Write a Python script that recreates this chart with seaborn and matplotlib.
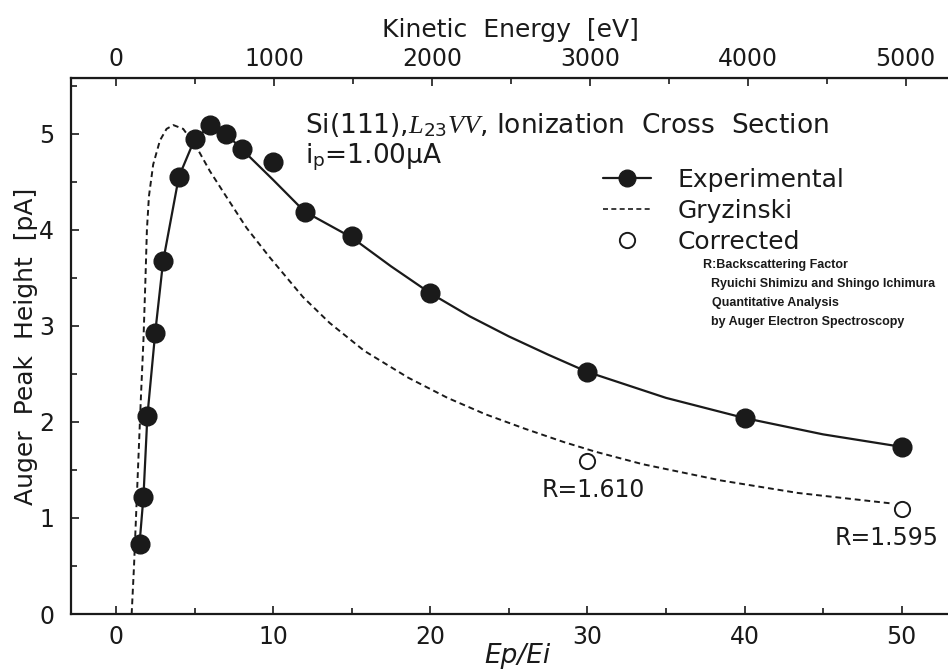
import numpy as np
import pandas as pd
import matplotlib
matplotlib.use('Agg')
import matplotlib.pyplot as plt
from matplotlib.lines import Line2D
from matplotlib.ticker import MultipleLocator, FixedLocator
import seaborn as sns

# Experimental points (Ep/Ei, pA)
exp_x = [1.5, 1.75, 2, 2.5, 3, 4, 5, 6, 7, 8, 10, 12, 15, 20, 30, 40, 50]
exp_y = [0.73, 1.22, 2.06, 2.93, 3.67, 4.55, 4.94, 5.09, 5.0, 4.84, 4.71, 4.19, 3.94, 3.34, 2.52, 2.04, 1.74]

fit_x = [1.5, 1.75, 2, 2.5, 3, 4, 5, 6, 7, 8, 10, 12, 15, 17.5, 20, 22.5, 25, 27.5, 30, 35, 40, 45, 50]
fit_y = [0.73, 1.22, 2.06, 2.93, 3.67, 4.55, 4.94, 5.08, 5.0, 4.84, 4.52, 4.19, 3.92, 3.62, 3.34, 3.1, 2.89, 2.7, 2.52, 2.25, 2.04, 1.87, 1.74]

# Gryzinski curve
gry_x = [1.0, 1.15, 1.3, 1.45, 1.6, 1.75, 1.88, 1.97, 2.1, 2.37, 2.8, 3.22, 3.65, 4.28, 5.13, 5.98,
         7.04, 8.31, 9.8, 11.9, 13.6, 15.8, 18.6, 21.1, 23.5, 26.0, 28.5, 30.5, 33.5, 38.5, 43.4, 49.4]
gry_y = [0.0, 0.5, 1.1, 1.7, 2.3, 2.85, 3.5, 4.0, 4.35, 4.68, 4.93, 5.05, 5.09, 5.05, 4.86, 4.61,
         4.34, 4.02, 3.71, 3.3, 3.03, 2.74, 2.46, 2.25, 2.08, 1.93, 1.79, 1.69, 1.56, 1.39, 1.26, 1.15]

# Corrected points
cor_x = [30, 50]
cor_y = [1.59, 1.09]
cor_labels = ['R=1.610', 'R=1.595']

# top axis ticks (eV)
ke_ticks = [0, 1000, 2000, 3000, 4000, 5000]
ke_minor = [500, 1500, 2500, 3500, 4500]

ei = 99.5  # eV, Si L23

sns.set_style('ticks')
plt.rcParams['font.family'] = ['DejaVu Sans']
plt.rcParams['mathtext.fontset'] = 'custom'
plt.rcParams['mathtext.rm'] = 'DejaVu Sans'
plt.rcParams['mathtext.it'] = 'Liberation Serif:italic'

W, H = 948, 672
ink = '#1a1a1a'
fig = plt.figure(figsize=(W / 100, H / 100), dpi=100)
ax = fig.add_axes([71 / W, 58 / H, (952 - 71) / W, (594 - 58) / H])

fit_df = pd.DataFrame({'x': fit_x, 'y': fit_y})
gry_df = pd.DataFrame({'x': gry_x, 'y': gry_y})
sns.lineplot(data=fit_df, x='x', y='y', ax=ax, color=ink, lw=1.6, sort=False, estimator=None)
sns.lineplot(data=gry_df, x='x', y='y', ax=ax, color=ink, lw=1.4, sort=False, estimator=None,
             linestyle=(0, (3, 2)))
sns.scatterplot(x=exp_x, y=exp_y, ax=ax, color=ink, s=180, edgecolor=ink, zorder=5)
sns.scatterplot(x=cor_x, y=cor_y, ax=ax, facecolor='white', edgecolor=ink, s=120, linewidth=1.4, zorder=5)

ax.set_xlim(-2.86, 53.2)
ax.set_ylim(0, 5.58)
ax.xaxis.set_major_locator(FixedLocator([0, 10, 20, 30, 40, 50]))
ax.xaxis.set_minor_locator(FixedLocator([5, 15, 25, 35, 45]))
ax.yaxis.set_major_locator(MultipleLocator(1))
ax.yaxis.set_minor_locator(MultipleLocator(0.5))
ax.tick_params(which='both', direction='in', labelsize=17, width=1.2, colors=ink)
ax.tick_params(which='major', length=6)
ax.tick_params(which='minor', length=4)
ax.tick_params(axis='x', pad=8)
ax.tick_params(axis='y', pad=12)
ax.set_xlabel('')
ax.set_ylabel('')
for sp in ax.spines.values():
    sp.set_linewidth(1.6)
    sp.set_color(ink)

top = ax.secondary_xaxis('top', functions=(lambda x: x * ei, lambda e: e / ei))
top.xaxis.set_major_locator(FixedLocator(ke_ticks))
top.xaxis.set_minor_locator(FixedLocator(ke_minor))
top.tick_params(which='both', direction='in', labelsize=17, width=1.2, pad=5, colors=ink)
top.tick_params(which='major', length=6)
top.tick_params(which='minor', length=4)

# axis titles
fig.text(510 / W, 1 - 30 / H, 'Kinetic  Energy  [eV]', ha='center', va='center', fontsize=18, color=ink)
fig.text(517 / W, 1 - 656 / H, 'Ep/Ei', ha='center', va='center', fontsize=19, style='italic', color=ink)
fig.text(26 / W, 1 - 346 / H, 'Auger  Peak  Height  [pA]', ha='center', va='center', fontsize=18,
         rotation=90, color=ink)

# annotation
fig.text(305 / W, 1 - 125 / H, r'Si(111),$L_{23}VV$, Ionization  Cross  Section', ha='left', va='center',
         fontsize=19, color=ink)
fig.text(305 / W, 1 - 157 / H, r'i$_\mathrm{p}$=1.00µA', ha='left', va='center', fontsize=19, color=ink)

small = [('R:Backscattering Factor', 703, 265),
         ('Ryuichi Shimizu and Shingo Ichimura', 711, 284),
         ('Quantitative Analysis', 712, 303),
         ('by Auger Electron Spectroscopy', 711, 322)]
for s, x, y in small:
    fig.text(x / W, 1 - y / H, s, ha='left', va='center', fontsize=9, fontweight='bold',
             family=['Liberation Sans Narrow', 'Liberation Sans'], color=ink)

# R labels under the corrected points
label_shift = [(4, -21), (-11, -21)]
for cx, cy, lab, off in zip(cor_x, cor_y, cor_labels, label_shift):
    ax.annotate(lab, (cx, cy), xytext=off, textcoords='offset points', ha='center', va='center',
                fontsize=17, color=ink)

handles = [Line2D([], [], color=ink, lw=1.6, marker='o', markersize=12),
           Line2D([], [], color=ink, lw=1.2, linestyle=(0, (3, 2))),
           Line2D([], [], color='none', marker='o', markersize=11, markerfacecolor='white',
                  markeredgecolor=ink, markeredgewidth=1.4)]
ax.legend(handles, ['Experimental', 'Gryzinski', 'Corrected'], loc='upper left',
          bbox_to_anchor=(603 / W, 1 - 168 / H), bbox_transform=fig.transFigure, frameon=False,
          fontsize=18, handlelength=1.9, handletextpad=1.1, labelspacing=0.28, borderpad=0,
          borderaxespad=0, labelcolor=ink)

fig.savefig('out.png', dpi=100)
